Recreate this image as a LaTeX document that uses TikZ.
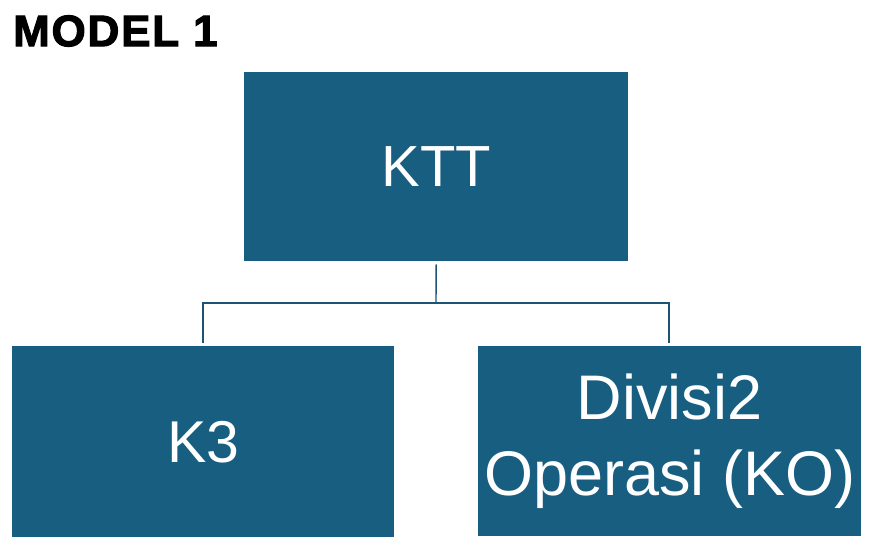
\documentclass[tikz,border=0pt]{standalone}
\usepackage{fontspec}
\setmainfont{Liberation Sans}
\newfontfamily\heavyfont{Liberation Sans}[BoldFeatures={FakeBold=2.5,LetterSpace=4}]
\definecolor{boxblue}{HTML}{175E81}
\definecolor{linkblue}{HTML}{1D5474}
\begin{document}
\begin{tikzpicture}[x=1pt,y=-1pt,
  orgbox/.style={fill=boxblue,draw=none,text=white,align=center,anchor=north west,inner sep=0pt},
  link/.style={draw=linkblue,line width=1.4pt}]
\useasboundingbox[fill=white] (0,0) rectangle (881,548);
\node[anchor=west,inner sep=0pt,font=\heavyfont\bfseries\fontsize{44}{46}\selectfont] (title) at (13,31) {MODEL 1};
\node[orgbox,minimum width=384pt,minimum height=189pt,font=\fontsize{58}{70}\selectfont] (ktt) at (244,72) {KTT};
\node[orgbox,minimum width=382pt,minimum height=191pt,font=\fontsize{59}{70}\selectfont] (k3) at (12,346) {K3};
\node[orgbox,minimum width=383pt,minimum height=190pt,font=\fontsize{63}{76}\selectfont] (ko) at (478,346) {Divisi2\\Operasi (KO)};
\coordinate (split) at (436,303);
\draw[link] ([yshift=-3pt]ktt.south) -- (split);
\draw[link] ([yshift=3pt]k3.north -| 203,0) |- (split) -| ([yshift=3pt]ko.north -| 669,0);
\end{tikzpicture}
\end{document}
